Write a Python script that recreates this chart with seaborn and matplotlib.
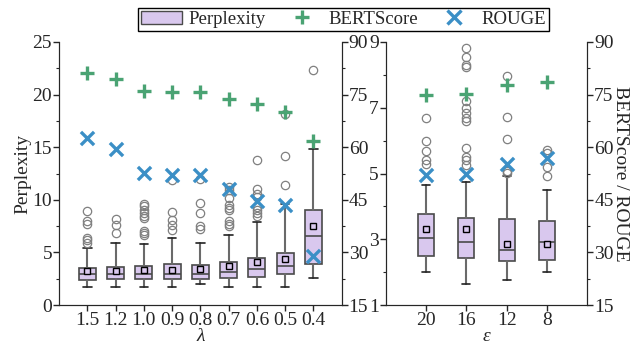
import matplotlib
matplotlib.use('Agg')
import matplotlib.pyplot as plt
from matplotlib.patches import Patch
from matplotlib.lines import Line2D
from matplotlib.ticker import MultipleLocator, FixedLocator
import seaborn as sns

# ---- data ----
lam_labels = ['1.5', '1.2', '1.0', '0.9', '0.8', '0.7', '0.6', '0.5', '0.4']
lam_q1 = [2.37, 2.46, 2.46, 2.46, 2.46, 2.56, 2.68, 2.93, 3.85]
lam_med = [2.93, 2.93, 2.97, 2.90, 2.90, 3.09, 3.41, 3.75, 6.53]
lam_q3 = [3.53, 3.60, 3.69, 3.91, 3.82, 4.04, 4.51, 4.92, 9.05]
lam_mean = [3.20, 3.25, 3.34, 3.34, 3.40, 3.66, 4.04, 4.35, 7.50]
lam_wlo = [1.73, 1.73, 1.67, 1.73, 1.96, 1.73, 1.73, 1.73, 2.52]
lam_whi = [5.46, 5.93, 5.80, 6.37, 5.93, 6.69, 7.89, 9.62, 14.87]
lam_fliers = [
    [8.9, 7.98, 7.7, 6.4, 6.15, 5.85],
    [8.2, 7.6, 6.85],
    [9.6, 9.4, 9.0, 8.7, 8.45, 8.25, 7.0, 6.85, 6.7],
    [11.85, 8.83, 8.04, 7.63, 7.1],
    [12.0, 9.68, 8.77, 7.5, 7.2],
    [11.2, 10.9, 10.16, 9.5, 9.24, 9.0, 7.98, 7.73, 7.54],
    [13.8, 11.04, 10.57, 10.25, 9.3, 9.05, 8.74, 8.42],
    [18.15, 14.2, 11.45],
    [22.35],
]
lam_bert = [81.3, 79.4, 76.1, 75.8, 75.8, 73.8, 72.4, 70.1, 61.7]
lam_rouge = [62.7, 59.4, 52.6, 52.0, 52.0, 48.2, 44.8, 43.6, 29.0]

eps_labels = ['20', '16', '12', '8']
eps_q1 = [2.48, 2.43, 2.33, 2.36]
eps_med = [3.03, 2.93, 2.68, 2.91]
eps_q3 = [3.76, 3.66, 3.61, 3.54]
eps_mean = [3.31, 3.31, 2.86, 2.86]
eps_wlo = [2.00, 1.63, 1.76, 2.00]
eps_whi = [4.65, 4.75, 4.92, 4.50]
eps_fliers = [
    [6.70, 6.00, 5.67, 5.40, 5.28],
    [8.81, 8.54, 8.29, 8.24, 7.20, 7.00, 6.83, 6.68, 6.60, 5.79, 5.49, 5.40, 5.27],
    [7.98, 6.73, 6.04, 5.07, 5.03],
    [5.72, 5.62, 5.20, 4.92],
]
eps_bert = [75.0, 75.3, 77.8, 78.6]
eps_rouge = [52.2, 52.5, 55.2, 56.9]

# ---- style ----
sns.set_style('ticks')
plt.rcParams['font.family'] = ['Liberation Serif', 'DejaVu Serif']
plt.rcParams['font.size'] = 14

box_fill = '#d9c8ee'
box_edge = '#4a4a4a'
green = '#4aa373'
blue = '#3b8fc6'


def make_stats(q1, med, q3, mean, wlo, whi, fliers):
    return [dict(q1=a, med=b, q3=c, mean=d, whislo=e, whishi=f, fliers=g)
            for a, b, c, d, e, f, g in zip(q1, med, q3, mean, wlo, whi, fliers)]


def draw_boxes(ax, stats, width):
    ax.bxp(stats, positions=range(len(stats)), widths=width, showmeans=True,
           patch_artist=True,
           boxprops=dict(facecolor=box_fill, edgecolor=box_edge, linewidth=1.2),
           medianprops=dict(color=box_edge, linewidth=1.2),
           whiskerprops=dict(color='#6a6a6a', linewidth=1.5),
           capprops=dict(color='#222222', linewidth=1.2),
           meanprops=dict(marker='s', markerfacecolor=box_fill,
                          markeredgecolor='black', markersize=5, markeredgewidth=1.0),
           flierprops=dict(marker='o', markerfacecolor='none',
                           markeredgecolor='#808080', markersize=6, markeredgewidth=0.9))


def draw_scores(ax, bert, rouge):
    xs = list(range(len(bert)))
    sns.scatterplot(x=xs, y=bert, ax=ax, marker='+', s=110, color=green,
                    linewidth=2.4, zorder=5)
    sns.scatterplot(x=xs, y=rouge, ax=ax, marker='x', s=90, color=blue,
                    linewidth=2.4, zorder=5)


def style_axes(ax, tw):
    for a in (ax, tw):
        a.spines['top'].set_visible(False)
        a.tick_params(which='major', length=4, width=1, direction='out', pad=1)
        a.tick_params(which='minor', length=2, width=0.8, direction='out')
    tw.set_ylim(15, 90)
    tw.yaxis.set_major_locator(MultipleLocator(15))
    tw.yaxis.set_minor_locator(MultipleLocator(7.5))
    ax.tick_params(axis='x', which='minor', length=0)


fig = plt.figure(figsize=(6.36, 3.43), dpi=100)
ax1 = fig.add_axes([59 / 636, 38 / 343, 282.7 / 636, 263 / 343])
ax2 = fig.add_axes([385.7 / 636, 38 / 343, 201.6 / 636, 263 / 343])

# left panel: lambda
draw_boxes(ax1, make_stats(lam_q1, lam_med, lam_q3, lam_mean, lam_wlo, lam_whi, lam_fliers), 0.6)
ax1.set_xlim(-1, 9)
ax1.set_ylim(0, 25)
ax1.set_xticks(range(len(lam_labels)))
ax1.set_xticklabels(lam_labels)
ax1.yaxis.set_major_locator(MultipleLocator(5))
ax1.yaxis.set_minor_locator(MultipleLocator(2.5))
ax1.set_ylabel('Perplexity', labelpad=1)
ax1.set_xlabel('λ', style='italic', labelpad=-1)
tw1 = ax1.twinx()
draw_scores(tw1, lam_bert, lam_rouge)
style_axes(ax1, tw1)

# right panel: epsilon
draw_boxes(ax2, make_stats(eps_q1, eps_med, eps_q3, eps_mean, eps_wlo, eps_whi, eps_fliers), 0.4)
ax2.set_xlim(-1, 4)
ax2.set_ylim(1, 9)
ax2.set_xticks(range(len(eps_labels)))
ax2.set_xticklabels(eps_labels)
ax2.yaxis.set_major_locator(FixedLocator([1, 3, 5, 7, 9]))
ax2.yaxis.set_minor_locator(FixedLocator([2, 4, 6, 8]))
ax2.set_xlabel('ε', style='italic', labelpad=-1)
tw2 = ax2.twinx()
draw_scores(tw2, eps_bert, eps_rouge)
style_axes(ax2, tw2)
tw2.set_ylabel('BERTScore / ROUGE', rotation=270, labelpad=11)

# shared legend
handles = [
    Patch(facecolor=box_fill, edgecolor=box_edge, linewidth=1.0),
    Line2D([], [], linestyle='none', marker='+', markersize=10.5,
           markeredgewidth=2.4, color=green),
    Line2D([], [], linestyle='none', marker='x', markersize=9.5,
           markeredgewidth=2.4, color=blue),
]
fig.legend(handles, ['Perplexity', 'BERTScore', 'ROUGE'], ncol=3,
           loc='upper center', bbox_to_anchor=(343.5 / 636, 1 - 8 / 343),
           frameon=True, fancybox=False, edgecolor='black', framealpha=1,
           fontsize=13.5, borderpad=0.15, handlelength=2.2, handletextpad=0.35,
           columnspacing=0.8, borderaxespad=0)

fig.savefig('out.png', dpi=100)
